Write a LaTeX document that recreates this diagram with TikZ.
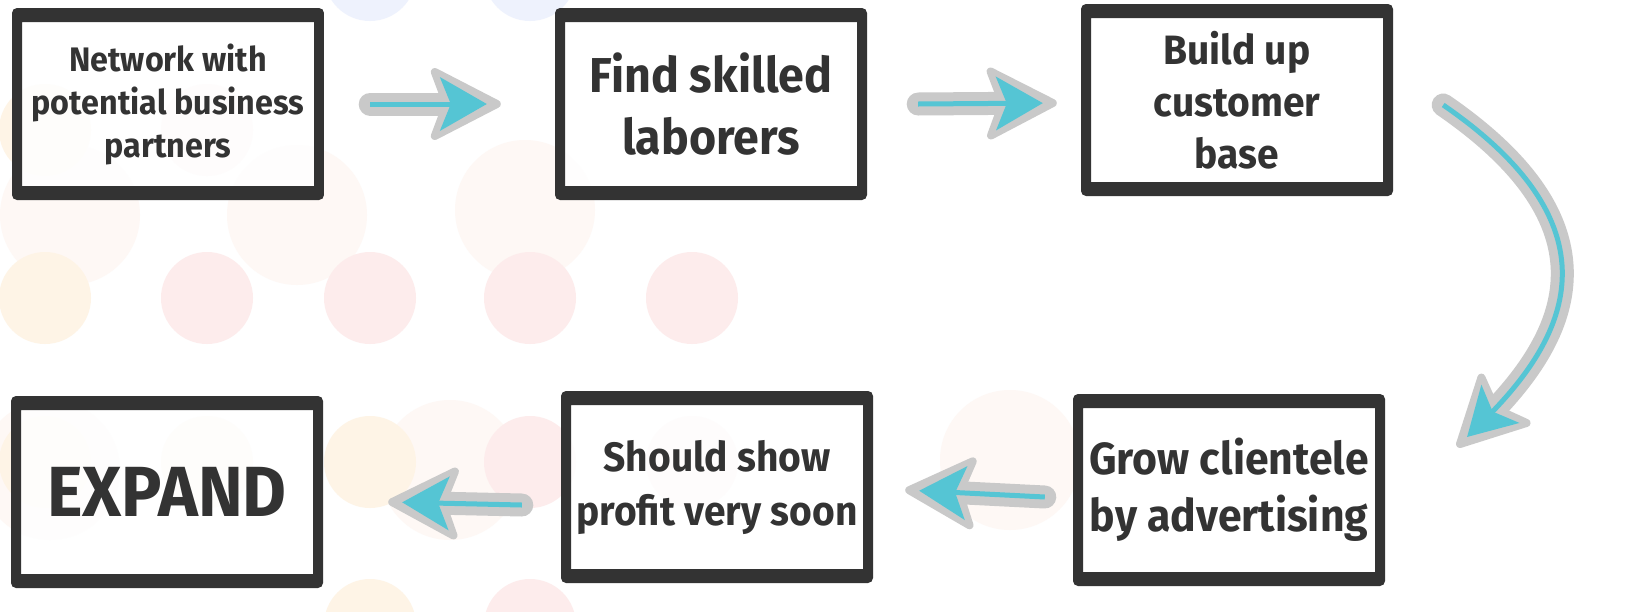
\documentclass[tikz,border=0pt]{standalone}
\usepackage{fontspec}
\setmainfont{Fira Sans}
\newfontfamily\boxfont{Fira Sans}[FakeStretch=0.95]
\usetikzlibrary{calc,decorations.markings}
\definecolor{dark}{HTML}{333333}
\definecolor{agray}{HTML}{C9C9C9}
\definecolor{acyan}{HTML}{55C5D4}
\definecolor{dotpink}{HTML}{FDECEC}
\definecolor{dotorange}{HTML}{FEF4E6}
\definecolor{dotblue}{HTML}{EEF2FD}
\definecolor{dotfaint}{HTML}{FEF8F5}
\newcommand{\flowarrow}[1]{%
  \draw[ashaft] #1;
  \path[decorate, decoration={markings, mark=at position -2pt with
    {\filldraw[agray, line width=8pt, line join=round]
       (-2,0) -- (-64,-32) -- (-52,0) -- (-64,32) -- cycle;}}] #1;
  \draw[acore] #1;
  \path[decorate, decoration={markings, mark=at position -2pt with
    {\fill[acyan] (-12,0) -- (-59,-27) -- (-48,0) -- (-59,27) -- cycle;}}] #1;
}
\begin{document}
\begin{tikzpicture}[x=1pt,y=-1pt,
  stepbox/.style={rounded corners=5pt, minimum width=312pt, minimum height=192pt,
    inner sep=0pt, text=dark, align=center,
    path picture={
      \fill[white, fill opacity=0.85, sharp corners]
        ($(path picture bounding box.south west)+(10pt,14pt)$) rectangle
        ($(path picture bounding box.north east)+(-10pt,-14pt)$);
      \fill[dark, even odd rule, sharp corners]
        (path picture bounding box.south west) rectangle (path picture bounding box.north east)
        ($(path picture bounding box.south west)+(10pt,14pt)$) rectangle
        ($(path picture bounding box.north east)+(-10pt,-14pt)$);}},
  txtS/.style={font=\boxfont\bfseries\fontsize{34}{43}\selectfont},
  txtM/.style={font=\boxfont\bfseries\fontsize{41}{52}\selectfont},
  txtG/.style={font=\boxfont\bfseries\fontsize{45}{57}\selectfont},
  txtH/.style={font=\boxfont\bfseries\fontsize{41}{54}\selectfont},
  txtL/.style={font=\boxfont\bfseries\fontsize{49}{62}\selectfont},
  txtXL/.style={font=\boxfont\bfseries\fontsize{71}{80}\selectfont},
  ashaft/.style={draw=agray, line width=23pt, line cap=round, shorten >=38pt},
  acore/.style={draw=acyan, line width=5pt, shorten >=38pt},
  dot/.style={circle, minimum size=92pt, inner sep=0pt},
  bigdot/.style={circle, minimum size=140pt, inner sep=0pt, fill=dotfaint}
]
\useasboundingbox (0,0) rectangle (1625,611);
\fill[white] (0,0) rectangle (1625,611);

% faint decorative background dots
\begin{scope}
\clip (0,0) rectangle (1625,611);
\foreach \x/\y in {70/215, 297/215, 525/210, 50/470, 450/470, 1010/460}
  \node[bigdot] at (\x,\y) {};
\foreach \x/\y/\c in {370/-25/dotblue, 530/-25/dotblue,
   45/130/dotorange, 207/130/dotpink,
   45/298/dotorange, 207/298/dotpink, 370/298/dotpink, 530/298/dotpink, 692/298/dotpink,
   45/462/dotorange, 207/462/dotorange, 370/462/dotorange, 530/462/dotpink, 692/462/dotpink,
   370/625/dotorange, 530/625/dotpink}
  \node[dot, fill=\c] at (\x,\y) {};
\end{scope}

% steps
\node[stepbox, txtS]  (n1) at (168,104)  {Network with\\potential business\\partners};
\node[stepbox, txtL]  (n2) at (711,104)  {Find skilled\\laborers};
\node[stepbox, txtM]  (n3) at (1237,100) {Build up\\customer\\base};
\node[stepbox, txtG]  (n4) at (1229,490) {Grow clientele\\by advertising};
\node[stepbox, txtH]  (n5) at (717,487)  {Should show\\profit very soon};
\node[stepbox, txtXL] (n6) at (167,492)  {EXPAND};

% connector end points
\coordinate (a1s) at ($(n1.east)+(46,0)$);
\coordinate (a1e) at ($(n2.west)+(-54,0)$);
\coordinate (a2s) at ($(n2.east)+(51,0)$);
\coordinate (a2e) at ($(n3.west)+(-24,3)$);
\coordinate (a3s) at ($(n3.east)+(50,5)$);
\coordinate (a3e) at ($(n4.north east)+(72,53)$);
\coordinate (a4s) at ($(n4.west)+(-28,7)$);
\coordinate (a4e) at ($(n5.east)+(32,3)$);
\coordinate (a5s) at ($(n5.west)+(-39,18)$);
\coordinate (a5e) at ($(n6.east)+(65,10)$);

% connectors
\flowarrow{(a1s) -- (a1e)}
\flowarrow{(a2s) -- (a2e)}
\flowarrow{(a3s) .. controls (1625,230) and (1565,340) .. (a3e)}
\flowarrow{(a4s) -- (a4e)}
\flowarrow{(a5s) -- (a5e)}
\end{tikzpicture}
\end{document}
